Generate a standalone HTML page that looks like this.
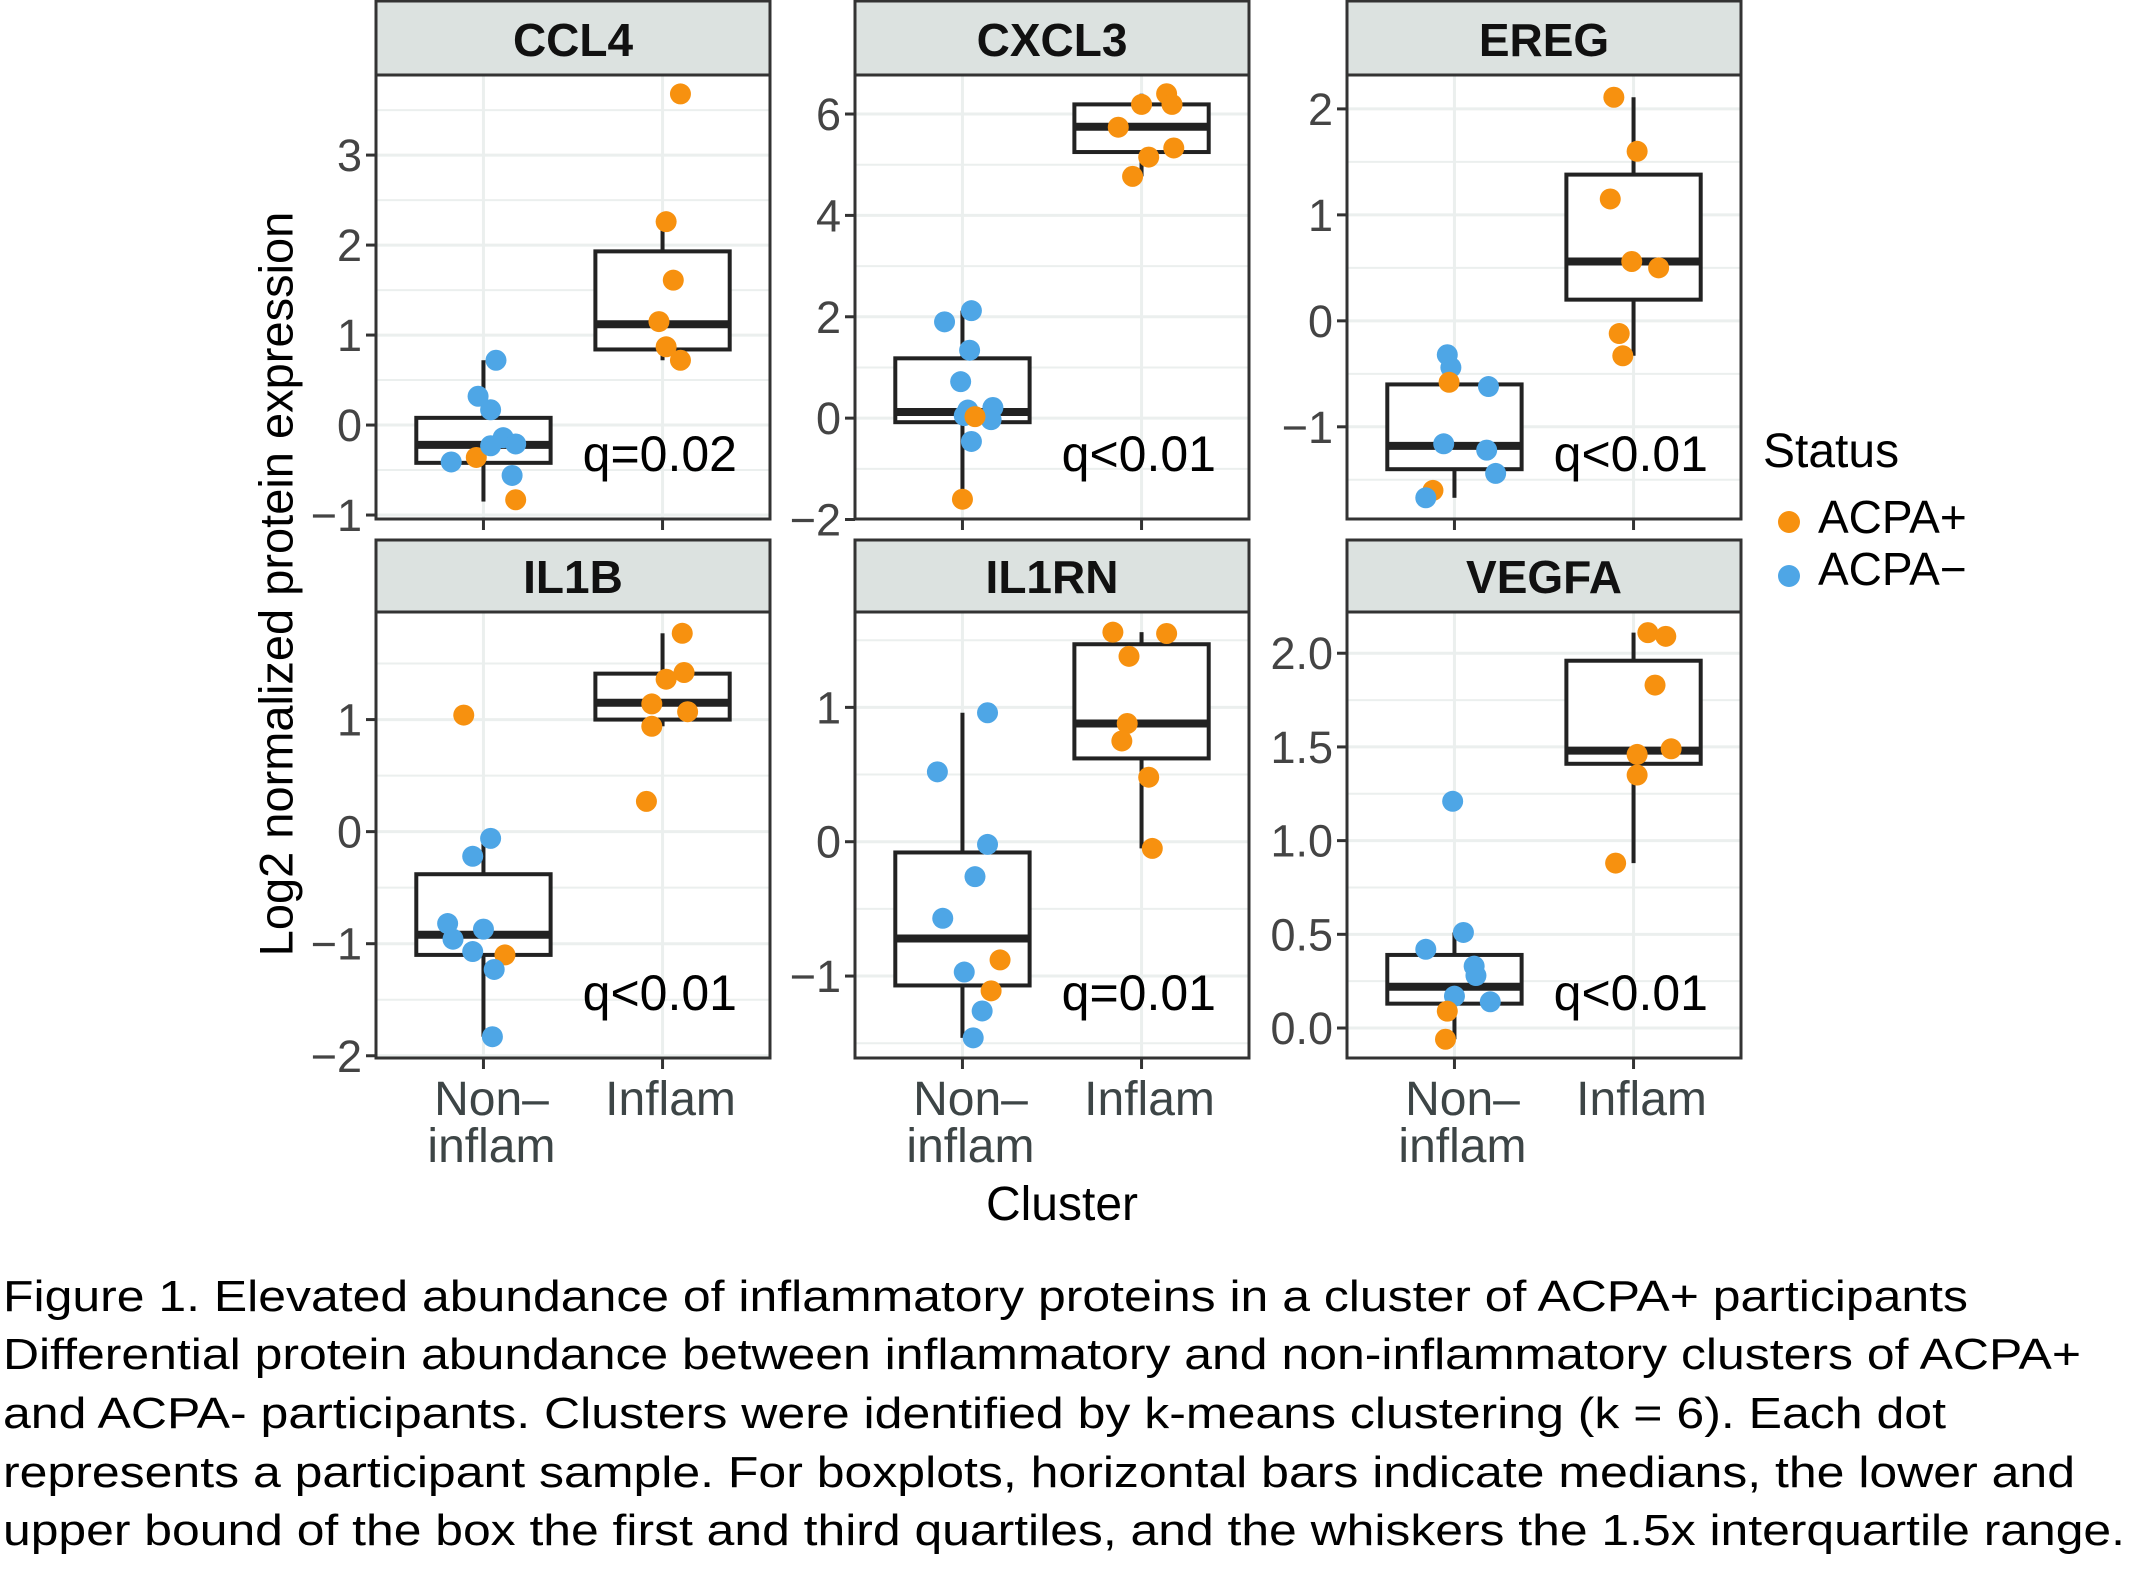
<!DOCTYPE html>
<html><head><meta charset="utf-8"><style>
html,body{margin:0;padding:0;background:#fff;}
svg{display:block;font-family:"Liberation Sans",Arial,sans-serif;}
</style></head><body>
<svg id="chart" width="2129" height="1575" viewBox="0 0 2129 1575" xmlns="http://www.w3.org/2000/svg">
<rect width="2129" height="1575" fill="#fff"/>
<g id="panels"></g>
<text x="276" y="584" transform="rotate(-90 276 584)" text-anchor="middle" dominant-baseline="central" font-size="47" fill="#000">Log2 normalized protein expression</text>
<text x="1062" y="1220" text-anchor="middle" font-size="48" fill="#000">Cluster</text>
<g>
<text x="1763" y="467" font-size="48" fill="#000">Status</text>
<circle cx="1789" cy="522" r="11" fill="#f7910f"/>
<text x="1818" y="533" font-size="46" fill="#000">ACPA+</text>
<circle cx="1789" cy="576" r="11" fill="#4ea6e6"/>
<text x="1818" y="585" font-size="46" fill="#000">ACPA−</text>
</g>
<g font-size="44" fill="#000">
<text x="3" y="1311" textLength="1965" lengthAdjust="spacingAndGlyphs">Figure 1. Elevated abundance of inflammatory proteins in a cluster of ACPA+ participants</text>
<text x="3" y="1369" textLength="2078" lengthAdjust="spacingAndGlyphs">Differential protein abundance between inflammatory and non-inflammatory clusters of ACPA+</text>
<text x="3" y="1428" textLength="1943" lengthAdjust="spacingAndGlyphs">and ACPA- participants. Clusters were identified by k-means clustering (k = 6). Each dot</text>
<text x="3" y="1487" textLength="2072" lengthAdjust="spacingAndGlyphs">represents a participant sample. For boxplots, horizontal bars indicate medians, the lower and</text>
<text x="3" y="1545" textLength="2122" lengthAdjust="spacingAndGlyphs">upper bound of the box the first and third quartiles, and the whiskers the 1.5x interquartile range.</text>
</g>
</svg>
<script>
const categories = ["Non–\ninflam", "Inflam"];
const proteins = ["CCL4", "CXCL3", "EREG", "IL1B", "IL1RN", "VEGFA"];
const qLabels = ["q=0.02", "q<0.01", "q<0.01", "q<0.01", "q=0.01", "q<0.01"];
const yDomains = [[-1.044, 3.89], [-1.99, 6.77], [-1.87, 2.32], [-2.02, 1.96], [-1.61, 1.71], [-0.16, 2.22]];
const yTicks = [[-1,0,1,2,3], [-2,0,2,4,6], [-1,0,1,2], [-2,-1,0,1], [-1,0,1], [0,0.5,1,1.5,2]];
const yTickDigits = [0,0,0,0,0,1];
// boxes: [whiskerLow, q1, median, q3, whiskerHigh] per category
const boxStats = [
  [[-0.85,-0.42,-0.22,0.08,0.72],[0.72,0.84,1.12,1.93,2.26]],
  [[-1.6,-0.08,0.12,1.18,2.12],[4.77,5.25,5.75,6.19,6.4]],
  [[-1.67,-1.4,-1.18,-0.6,-0.32],[-0.33,0.2,0.56,1.38,2.11]],
  [[-1.83,-1.1,-0.92,-0.38,-0.06],[0.94,1.0,1.15,1.41,1.77]],
  [[-1.46,-1.07,-0.72,-0.08,0.96],[-0.05,0.62,0.88,1.47,1.56]],
  [[-0.06,0.13,0.22,0.39,0.51],[0.88,1.41,1.48,1.96,2.11]]
];
// points: category index, value, jitter (category units), status (1 = ACPA+, 0 = ACPA−)
const ptCat = [
  [0,0,0,0,0,0,0,0,0,0,1,1,1,1,1,1],
  [0,0,0,0,0,0,0,0,0,0,0,1,1,1,1,1,1,1],
  [0,0,0,0,0,0,0,0,0,1,1,1,1,1,1,1],
  [0,0,0,0,0,0,0,0,0,0,1,1,1,1,1,1,1],
  [0,0,0,0,0,0,0,0,0,0,1,1,1,1,1,1,1],
  [0,0,0,0,0,0,0,0,0,1,1,1,1,1,1,1]
];
const ptVal = [
  [0.72,0.32,0.17,-0.41,-0.36,-0.14,-0.21,-0.23,-0.56,-0.83,3.68,2.26,1.61,1.15,0.87,0.72],
  [2.12,1.9,1.34,0.72,0.16,0.21,-0.03,0.05,0.03,-0.46,-1.6,6.4,6.19,6.19,5.74,5.33,5.15,4.77],
  [-0.32,-0.44,-0.58,-0.62,-1.16,-1.22,-1.44,-1.6,-1.67,2.11,1.6,1.15,0.56,0.5,-0.12,-0.33],
  [1.04,-0.06,-0.22,-0.82,-0.96,-0.87,-1.07,-1.1,-1.23,-1.83,1.77,1.42,1.36,1.14,1.07,0.94,0.27],
  [0.96,0.52,-0.02,-0.26,-0.57,-0.88,-0.97,-1.11,-1.26,-1.46,1.56,1.55,1.38,0.88,0.75,0.48,-0.05],
  [1.21,0.51,0.42,0.33,0.28,0.17,0.14,0.09,-0.06,2.11,2.09,1.83,1.46,1.49,1.35,0.88]
];
const ptJit = [
  [0.03,-0.07,0,-0.22,-0.08,0.07,0.14,0,0.12,0.14,0.06,-0.02,0.02,-0.06,-0.02,0.06],
  [0.01,-0.14,0,-0.05,-0.01,0.13,0.12,-0.03,0.03,0.01,-0.04,0.1,-0.04,0.13,-0.17,0.14,0,-0.09],
  [-0.08,-0.06,-0.07,0.15,-0.1,0.14,0.19,-0.16,-0.2,-0.15,-0.02,-0.17,-0.05,0.1,-0.12,-0.1],
  [-0.15,0,-0.1,-0.24,-0.21,-0.04,-0.1,0.08,0.02,0.01,0.07,0.08,-0.02,-0.1,0.1,-0.1,-0.13],
  [0.1,-0.18,0.1,0.03,-0.15,0.17,-0.03,0.12,0.07,0.02,-0.2,0.1,-0.11,-0.12,-0.15,0,0.02],
  [-0.05,0.01,-0.2,0.07,0.08,-0.04,0.16,-0.08,-0.09,0.04,0.14,0.08,-0.02,0.17,-0.02,-0.14]
];
const ptStatus = [
  [0,0,0,0,1,0,0,0,0,1,1,1,1,1,1,1],
  [0,0,0,0,0,0,0,0,1,0,1,1,1,1,1,1,1,1],
  [0,0,1,0,0,0,0,1,0,1,1,1,1,1,1,1],
  [1,0,0,0,0,0,0,1,0,0,1,1,1,1,1,1,1],
  [0,0,0,0,0,1,0,1,0,0,1,1,1,1,1,1,1],
  [0,0,0,0,0,0,0,1,1,1,1,1,1,1,1,1]
];
</script>
<script>
const NS = "http://www.w3.org/2000/svg";
const layout = {cols:[376,855,1347], w:394, rows:[{strip:0, top:75, bottom:519},{strip:539, top:612, bottom:1058}]};
const COL = {1:"#f7910f", 0:"#4ea6e6"};
const JIT_SHIFT = 0.04;
const root = document.getElementById("panels");
function el(tag, attrs, parent){ const e=document.createElementNS(NS,tag); for(const k in attrs) e.setAttribute(k,attrs[k]); (parent||root).appendChild(e); return e; }

proteins.forEach((name, p) => {
  const c = p % 3, r = Math.floor(p / 3);
  const L = layout.cols[c], R = L + layout.w, row = layout.rows[r];
  const T = row.top, B = row.bottom;
  const [lo, hi] = yDomains[p];
  const y = v => B - (v - lo) / (hi - lo) * (B - T);
  const x = v => L + (v + 0.6) / 2.2 * (R - L);
  const g = el("g", {});
  
  
  const ticks = yTicks[p];
  const step = ticks[1] - ticks[0];
  for (let v = ticks[0] - step/2; v <= hi; v += step/2) {
    if (v < lo) continue;
    const ln = el("line", {x1:L, x2:R, y1:y(v), y2:y(v), stroke:"#ebefee", "stroke-width": Math.abs((v-ticks[0])/step % 1) < 1e-6 ? 3 : 2}, g);
    
    
  }
  categories.forEach((cat, i) => {
    const ln = el("line", {x1:x(i), x2:x(i), y1:T, y2:B, stroke:"#ebefee", "stroke-width":3}, g);
    
    
  });
  boxStats[p].forEach((s, i) => {
    const bg = el("g", {}, g);
    
    
    const hw = 0.75 / 2 * (R - L) / 2.2;
    el("line", {x1:x(i), x2:x(i), y1:y(s[0]), y2:y(s[1]), stroke:"#222", "stroke-width":4}, bg);
    el("line", {x1:x(i), x2:x(i), y1:y(s[3]), y2:y(s[4]), stroke:"#222", "stroke-width":4}, bg);
    el("rect", {x:x(i)-hw, y:y(s[3]), width:2*hw, height:y(s[1])-y(s[3]), fill:"#fff", stroke:"#222", "stroke-width":4}, bg);
    el("line", {x1:x(i)-hw, x2:x(i)+hw, y1:y(s[2]), y2:y(s[2]), stroke:"#222", "stroke-width":8}, bg);
  });
  ptVal[p].forEach((v, k) => {
    const pt = el("circle", {cx:x(ptCat[p][k] + ptJit[p][k] + JIT_SHIFT), cy:y(v), r:10.5, fill:COL[ptStatus[p][k]]}, g);
    
    
  });
  const q = el("text", {x:R-33, y:B-48, "text-anchor":"end", "font-size":"50", fill:"#000"}, g);
  q.textContent = qLabels[p];
  
  
  el("rect", {x:L, y:T, width:R-L, height:B-T, fill:"none", stroke:"#333", "stroke-width":3}, g);
  const st = el("rect", {x:L, y:row.strip+1, width:R-L, height:T-row.strip-1, fill:"#dce2e0", stroke:"#333", "stroke-width":3}, g);
  
  
  const stt = el("text", {x:(L+R)/2, y:T-19, "text-anchor":"middle", "font-size":"46", "font-weight":"bold", fill:"#111"}, g);
  stt.textContent = name;
  
  
  ticks.forEach(v => {
    el("line", {x1:L-10, x2:L, y1:y(v), y2:y(v), stroke:"#333", "stroke-width":3}, g);
    const t = el("text", {x:L-14, y:y(v)+16, "text-anchor":"end", "font-size":"45", fill:"#444"}, g);
    t.textContent = (v < 0 ? "−" : "") + Math.abs(v).toFixed(yTickDigits[p]);
    
    
  });
  categories.forEach((cat, i) => {
    el("line", {x1:x(i), x2:x(i), y1:B, y2:B+11, stroke:"#333", "stroke-width":3}, g);
    if (r === 1) {
      cat.split("\n").forEach((ln, j) => {
        const t = el("text", {x:x(i)+8, y:B+57+j*47, "text-anchor":"middle", "font-size":"48", fill:"#3d4546"}, g);
        t.textContent = ln;
        
        
      });
    }
  });
});
</script>
</body></html>
